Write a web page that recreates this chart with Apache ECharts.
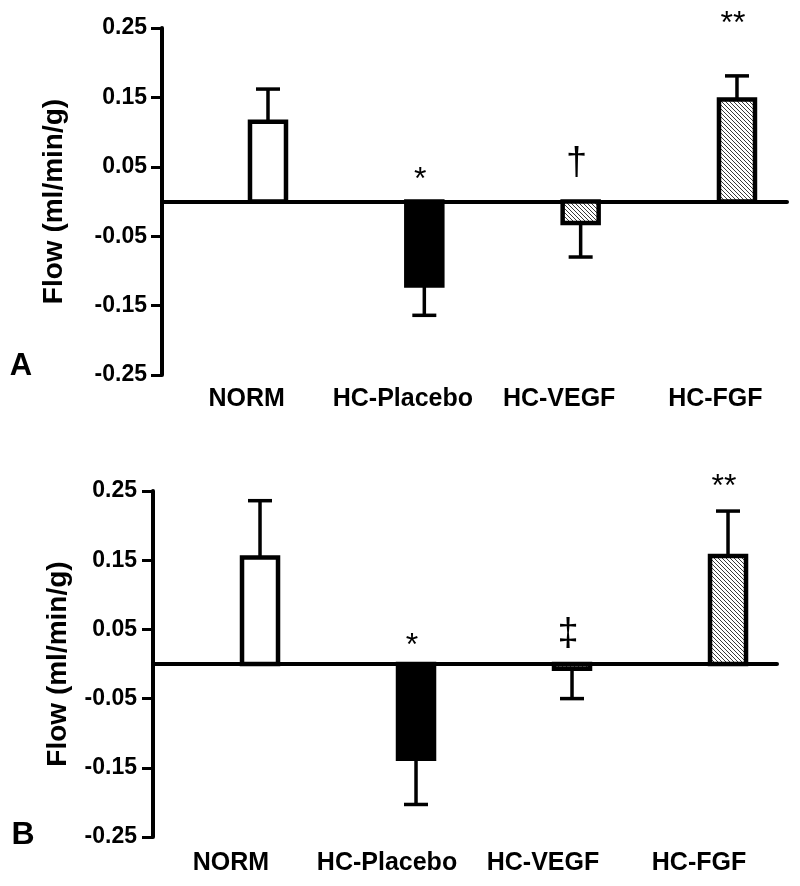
<!DOCTYPE html>
<html><head><meta charset="utf-8">
<script src="https://cdn.jsdelivr.net/npm/echarts@6/dist/echarts.min.js"></script>
<style>html,body{margin:0;padding:0;background:#fff}#c{width:800px;height:886px}</style>
</head><body><div id="c"></div>
<script>
// ---- data ----
const categories = ['NORM', 'HC-Placebo', 'HC-VEGF', 'HC-FGF'];
const yTickLabels = ['-0.25', '-0.15', '-0.05', '0.05', '0.15', '0.25'];
const valuesA = [0.115, -0.121, -0.031, 0.147];
const errorsA = [0.047, 0.043, 0.049, 0.034];
const marksA = ['', '*', '\u2020', '**'];
const markYA = [null, 0.041, 0.055, 0.266];
const valuesB = [0.154, -0.137, -0.007, 0.156];
const errorsB = [0.082, 0.066, 0.043, 0.065];
const marksB = ['', '*', '\u2021', '**'];
const markYB = [null, 0.036, 0.043, 0.265];
const fillKinds = ['white', 'black', 'hatch', 'hatch'];

// ---- styling helpers ----
const FONT = "'Liberation Sans', Arial, Helvetica, sans-serif";
function makeHatch() {
  const s = 4;
  const c = document.createElement('canvas');
  c.width = s; c.height = s;
  const g = c.getContext('2d');
  g.fillStyle = '#fff'; g.fillRect(0, 0, s, s);
  g.strokeStyle = '#3a3a3a'; g.lineWidth = 1;
  g.beginPath();
  g.moveTo(-1, -1); g.lineTo(s + 1, s + 1);
  g.moveTo(s - 1, -1); g.lineTo(s + 1, 1);
  g.moveTo(-1, s - 1); g.lineTo(1, s + 1);
  g.stroke();
  return c;
}
const hatch = { image: makeHatch(), repeat: 'repeat' };
function fillFor(i) {
  const k = fillKinds[i];
  if (k === 'hatch') return hatch;
  return k === 'black' ? '#000' : '#fff';
}

function barSeries(values, gi) {
  return {
    type: 'custom', xAxisIndex: gi * 2, yAxisIndex: gi, clip: false, z: 5,
    data: values.map((v, i) => [i, v]),
    renderItem: function (params, api) {
      const x = api.value(0), y = api.value(1);
      const p0 = api.coord([x, 0]), p1 = api.coord([x, y]);
      const w = 36;
      return {
        type: 'rect',
        shape: { x: p0[0] - w / 2, y: Math.min(p0[1], p1[1]), width: w, height: Math.abs(p1[1] - p0[1]) },
        style: { fill: fillFor(params.dataIndex), stroke: '#000', lineWidth: 4.5 }
      };
    }
  };
}
function errSeries(values, errs, gi) {
  return {
    type: 'custom', xAxisIndex: gi * 2, yAxisIndex: gi, clip: false, z: 4,
    data: values.map((v, i) => [i, v, errs[i]]),
    renderItem: function (params, api) {
      const x = api.value(0), y = api.value(1), e = api.value(2);
      const sgn = y >= 0 ? 1 : -1;
      const p0 = api.coord([x, y]), p1 = api.coord([x, y + sgn * e]);
      const hw = 12;
      return {
        type: 'group',
        children: [
          { type: 'line', shape: { x1: p0[0], y1: p0[1], x2: p1[0], y2: p1[1] }, style: { stroke: '#000', lineWidth: 3.5 } },
          { type: 'line', shape: { x1: p1[0] - hw, y1: p1[1], x2: p1[0] + hw, y2: p1[1] }, style: { stroke: '#000', lineWidth: 3.5 } }
        ]
      };
    }
  };
}
function markSeries(marks, ys, gi) {
  const idx = [];
  marks.forEach((m, i) => { if (m) idx.push(i); });
  return {
    type: 'custom', xAxisIndex: gi * 2, yAxisIndex: gi, clip: false, z: 6,
    data: idx.map(i => [i, ys[i]]),
    renderItem: function (params, api) {
      const i = api.value(0);
      const m = marks[i];
      const p = api.coord([i, api.value(1)]);
      const isStar = m.indexOf('*') >= 0;
      const fs = isStar ? 32 : 38;
      return {
        type: 'text',
        x: p[0] - 4, y: p[1] + (isStar ? 0.22 * fs : 0),
        style: {
          text: m, fill: '#000', align: 'center', verticalAlign: 'middle',
          font: fs + 'px ' + FONT
        }
      };
    }
  };
}

function valueX(gi, min, max) {
  return {
    gridIndex: gi, type: 'value', min: min, max: max,
    axisLine: { show: true, onZero: true, lineStyle: { color: '#000', width: 4 } },
    axisTick: { show: false }, axisLabel: { show: false }, splitLine: { show: false }
  };
}
function catX(gi, margin, shift) {
  return {
    gridIndex: gi, type: 'category', data: categories, position: 'bottom',
    axisLine: { show: false, onZero: false }, axisTick: { show: false }, splitLine: { show: false },
    axisLabel: {
      interval: 0, margin: margin, color: '#000', fontSize: 25, fontWeight: 'bold', fontFamily: FONT,
      padding: shift >= 0 ? [0, 0, 0, 2 * shift] : [0, -2 * shift, 0, 0]
    }
  };
}
function valY(gi, nameGap, labelMargin) {
  return {
    gridIndex: gi, type: 'value', min: -0.25, max: 0.25, interval: 0.1,
    name: 'Flow (ml/min/g)', nameLocation: 'middle', nameGap: nameGap, nameRotate: 90,
    nameTextStyle: { color: '#000', fontSize: 28, fontWeight: 'bold', fontFamily: FONT },
    axisLine: { show: true, onZero: false, lineStyle: { color: '#000', width: 4 } },
    axisTick: { show: true, length: 11, lineStyle: { color: '#000', width: 3 } },
    splitLine: { show: false },
    axisLabel: {
      margin: labelMargin, color: '#000', fontSize: 23, fontWeight: 'bold', fontFamily: FONT,
      formatter: function (v) {
        const k = Math.round((v + 0.25) / 0.1);
        return yTickLabels[k] !== undefined ? yTickLabels[k] : '';
      }
    }
  };
}

const chart = echarts.init(document.getElementById('c'), null, { renderer: 'canvas' });
chart.setOption({
  backgroundColor: '#fff',
  animation: false,
  grid: [
    { left: 162, top: 28, width: 625, height: 347 },
    { left: 153, top: 491, width: 624, height: 346 }
  ],
  xAxis: [
    valueX(0, -0.678, 3.32), catX(0, 12, 6.5),
    valueX(1, -0.686, 3.314), catX(1, 14, 0)
  ],
  yAxis: [valY(0, 94, 15), valY(1, 81, 16)],
  graphic: [
    { type: 'text', x: 21, y: 366, style: { text: 'A', fill: '#000', align: 'center', verticalAlign: 'middle', font: 'bold 31px ' + FONT } },
    { type: 'text', x: 23, y: 835, style: { text: 'B', fill: '#000', align: 'center', verticalAlign: 'middle', font: 'bold 32px ' + FONT } }
  ],
  series: [
    errSeries(valuesA, errorsA, 0), barSeries(valuesA, 0), markSeries(marksA, markYA, 0),
    errSeries(valuesB, errorsB, 1), barSeries(valuesB, 1), markSeries(marksB, markYB, 1)
  ]
});
</script></body></html>
